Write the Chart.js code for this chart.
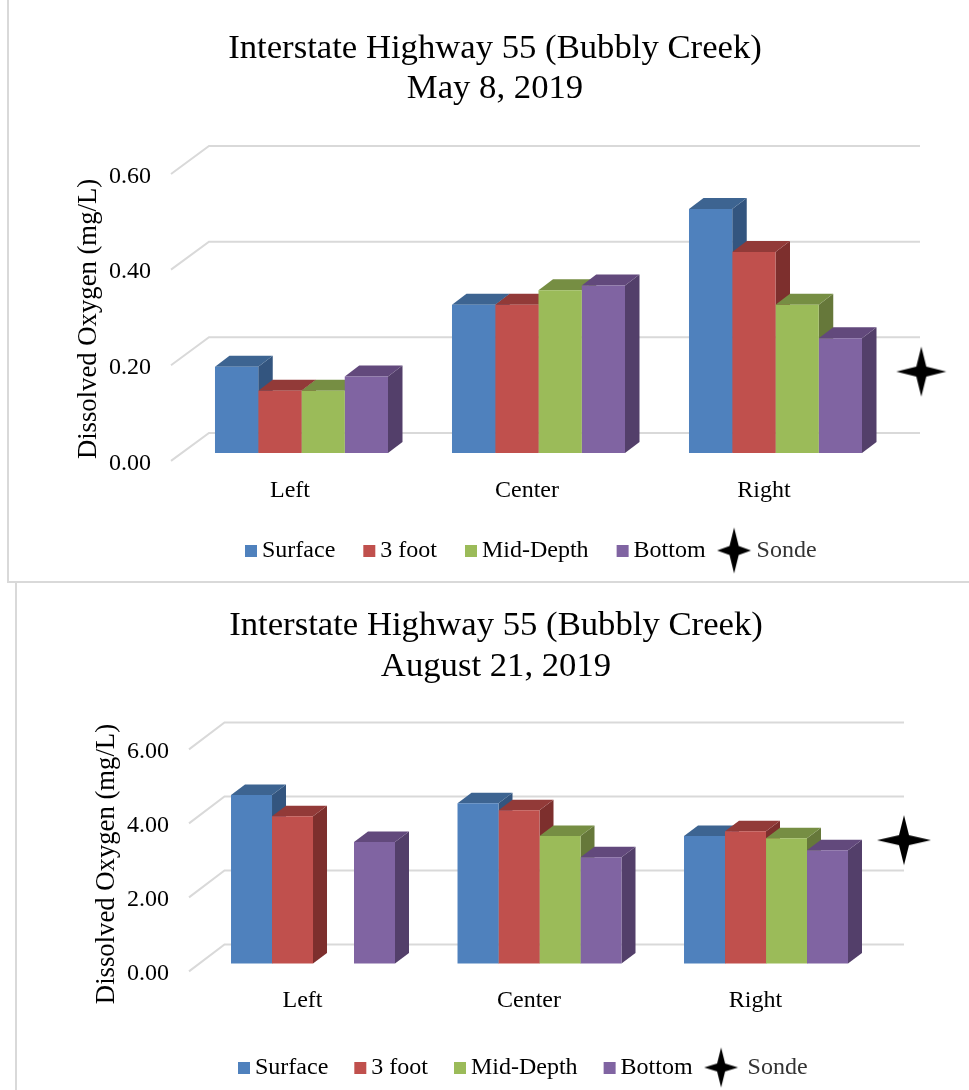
<!DOCTYPE html>
<html>
<head>
<meta charset="utf-8">
<style>
html,body{margin:0;padding:0;background:#fff;overflow:hidden;width:969px;height:1090px}
canvas{position:absolute}
.rule{position:absolute;background:#d9d9d9}
</style>
<script src="https://cdn.jsdelivr.net/npm/chart.js@4"></script>
</head>
<body>
<div class="rule" style="left:7px;top:0;width:2px;height:583px"></div>
<div class="rule" style="left:7px;top:581px;width:962px;height:2px"></div>
<div class="rule" style="left:15px;top:583px;width:2px;height:507px"></div>
<canvas id="c1" style="left:9px;top:0"></canvas>
<canvas id="c2" style="left:17px;top:583px"></canvas>
<script>
const categories = ['Left', 'Center', 'Right'];
const seriesNames = ['Surface', '3 foot', 'Mid-Depth', 'Bottom'];
const sondeName = 'Sonde';

const maySurface = [0.18, 0.31, 0.51];
const may3Foot   = [0.13, 0.31, 0.42];
const mayMid     = [0.13, 0.34, 0.31];
const mayBottom  = [0.16, 0.35, 0.24];
const maySonde   = [0.17];
const mayTicks   = [0, 0.2, 0.4, 0.6];

const augSurface = [4.55, 4.33, 3.44];
const aug3Foot   = [3.98, 4.14, 3.57];
const augMid     = [null, 3.44, 3.38];
const augBottom  = [3.28, 2.87, 3.06];
const augSonde   = [3.33];
const augTicks   = [0, 2, 4, 6];

const FONT = '"Liberation Serif"';
const fills = ['#4F81BD', '#C0504D', '#9BBB59', '#8064A2'];
const tops  = ['#3D6491', '#923A38', '#768E43', '#62497C'];
const sides = ['#33557F', '#7D2F2D', '#66783A', '#533F6A'];

function starPath(g, cx, cy, hw, hh) {
  const k = 0.2 * hh;
  g.beginPath();
  g.moveTo(cx, cy - hh);
  g.lineTo(cx + k, cy - k);
  g.lineTo(cx + hw, cy);
  g.lineTo(cx + k, cy + k);
  g.lineTo(cx, cy + hh);
  g.lineTo(cx - k, cy + k);
  g.lineTo(cx - hw, cy);
  g.lineTo(cx - k, cy - k);
  g.closePath();
  g.fillStyle = '#000';
  g.fill();
}
function makeStar(hw, hh, shift) {
  const c = document.createElement('canvas');
  const w = 2 * hw + 2 + 2 * Math.abs(shift);
  c.width = w; c.height = 2 * hh + 2;
  starPath(c.getContext('2d'), w / 2 + shift, hh + 1, hw, hh);
  return c;
}
function makeSwatch(color) {
  const c = document.createElement('canvas');
  c.width = 25; c.height = 12;
  const g = c.getContext('2d');
  g.fillStyle = color;
  g.fillRect(10, 0, 12, 12);
  return c;
}

function drawChart(id, o) {
  const canvas = document.getElementById(id);
  canvas.width = o.width; canvas.height = o.height;
  const scene = {
    id: 'scene',
    afterLayout(chart) {
      const lg = chart.legend;
      const pad = o.legendPad;
      lg.left = o.legendX - pad;
      lg.right = chart.width + 300;
      lg.top = o.legendY - pad - o.legendFont / 2;
      chart.titleBlock.right = chart.width;
    },
    beforeDatasetsDraw(chart) {
      const g = chart.ctx, y = chart.scales.y, a = chart.chartArea;
      g.save();
      g.strokeStyle = '#d9d9d9';
      g.lineWidth = 2;
      o.ticks.forEach(v => {
        const p = y.getPixelForValue(v);
        g.beginPath();
        g.moveTo(a.left, p + o.frontDrop);
        g.lineTo(a.left + o.backRun, p - o.backRise);
        g.lineTo(a.right - 5, p - o.backRise);
        g.stroke();
      });
      categories.forEach((_, j) => {
        o.series.forEach((vals, i) => {
          if (vals[j] === null) return;
          const b = chart.getDatasetMeta(i).data[j];
          const x0 = b.x - b.width / 2, x1 = b.x + b.width / 2;
          g.fillStyle = sides[i];
          g.beginPath();
          g.moveTo(x1, b.y); g.lineTo(x1 + o.dx, b.y - o.dy);
          g.lineTo(x1 + o.dx, b.base - o.dy); g.lineTo(x1, b.base);
          g.closePath(); g.fill();
          g.fillStyle = tops[i];
          g.beginPath();
          g.moveTo(x0, b.y); g.lineTo(x0 + o.dx, b.y - o.dy);
          g.lineTo(x1 + o.dx, b.y - o.dy); g.lineTo(x1, b.y);
          g.closePath(); g.fill();
        });
      });
      g.restore();
    }
  };
  const datasets = o.series.map((vals, i) => ({
    type: 'bar',
    label: seriesNames[i],
    backgroundColor: fills[i],
    borderWidth: 0,
    categoryPercentage: o.groupShare,
    barPercentage: 1,
    data: vals.map((v, j) => ({ x: j, y: v }))
  }));
  datasets.push({
    type: 'scatter',
    label: sondeName,
    clip: false,
    pointStyle: makeStar(o.starW, o.starH, 0),
    pointRadius: o.starW,
    data: o.sonde.map(v => ({ x: o.sondeX, y: v }))
  });
  return new Chart(canvas, {
    type: 'bar',
    data: { datasets },
    plugins: [scene],
    options: {
      responsive: false,
      animation: false,
      layout: { padding: { left: 0, top: 0, bottom: 0, right: o.padRight } },
      plugins: {
        tooltip: { enabled: false },
        title: {
          display: true,
          text: o.title,
          color: '#000',
          font: { family: FONT, size: o.titleFont, weight: 'normal', lineHeight: o.titleLine },
          padding: { top: o.titleTop, bottom: o.titleBottom }
        },
        legend: {
          display: true,
          position: 'bottom',
          align: 'start',
          labels: {
            color: '#000',
            font: { family: FONT, size: o.legendFont },
            usePointStyle: true,
            boxWidth: 5,
            boxHeight: 12,
            padding: o.legendPad,
            generateLabels() {
              const items = seriesNames.map((n, i) => ({
                text: n, fillStyle: fills[i], strokeStyle: 'transparent', lineWidth: 0,
                pointStyle: makeSwatch(fills[i]), datasetIndex: i, hidden: false
              }));
              items.push({
                text: o.sondeText, fillStyle: '#000', strokeStyle: 'transparent', lineWidth: 0,
                fontColor: '#333',
                pointStyle: makeStar(o.legendStarW, o.legendStarH, o.legendStarShift),
                datasetIndex: 4, hidden: false
              });
              return items;
            }
          }
        }
      },
      scales: {
        x: {
          type: 'linear',
          offset: false,
          min: o.xMin,
          max: o.xMax,
          grid: { display: false, drawTicks: false, offset: false },
          border: { display: false },
          afterBuildTicks(s) { s.ticks = categories.map((_, i) => ({ value: i })); },
          afterFit(s) { s.height = o.xHeight; },
          ticks: {
            autoSkip: false,
            maxRotation: 0,
            padding: o.xPad,
            labelOffset: o.xLabelShift,
            color: '#000',
            font: { family: FONT, size: o.tickFont },
            callback: v => categories[v]
          }
        },
        y: {
          min: o.yMin,
          max: o.yMax,
          grid: { display: false, drawTicks: false },
          border: { display: false },
          afterBuildTicks(s) { s.ticks = o.ticks.map(v => ({ value: v })); },
          afterFit(s) { s.width = o.yWidth; },
          title: {
            display: true,
            text: 'Dissolved Oxygen (mg/L)',
            color: '#000',
            font: { family: FONT, size: o.yTitleFont },
            padding: { top: o.yTitlePad, bottom: 0 }
          },
          ticks: {
            autoSkip: false,
            padding: o.yPad,
            labelOffset: o.yLabelDrop,
            color: '#000',
            font: { family: FONT, size: o.tickFont },
            callback: v => v.toFixed(2)
          }
        }
      }
    }
  });
}

drawChart('c1', {
  width: 972, height: 581, padRight: 56,
  title: ['Interstate Highway 55 (Bubbly Creek)', 'May 8, 2019'],
  titleFont: 34.7, titleLine: 1.153, titleTop: 29, titleBottom: 57,
  series: [maySurface, may3Foot, mayMid, mayBottom], sonde: maySonde, ticks: mayTicks,
  sondeX: 2.615, xMin: -0.5506, xMax: 2.6308, groupShare: 0.73,
  yMin: -0.04, yMax: 0.6, xHeight: 47, yWidth: 162,
  xPad: 4, xLabelShift: -11.5, yPad: 20, tickFont: 24, yTitleFont: 26.7, yTitlePad: 64,
  frontDrop: 8, yLabelDrop: 10.5, backRise: 20, backRun: 38, dx: 14.5, dy: 11,
  starW: 25, starH: 25,
  legendFont: 24, legendPad: 28, legendX: 236, legendY: 550.5,
  legendStarW: 17, legendStarH: 23, legendStarShift: -2, sondeText: ' Sonde'
});
drawChart('c2', {
  width: 958, height: 507, padRight: 66,
  title: ['Interstate Highway 55 (Bubbly Creek)', 'August 21, 2019'],
  titleFont: 34.7, titleLine: 1.18, titleTop: 22.5, titleBottom: 54,
  series: [augSurface, aug3Foot, augMid, augBottom], sonde: augSonde, ticks: augTicks,
  sondeX: 2.609, xMin: -0.5475, xMax: 2.6313, groupShare: 0.724,
  yMin: -0.63, yMax: 6, xHeight: 43.3, yWidth: 172,
  xPad: 0, xLabelShift: -10.5, yPad: 20, tickFont: 24, yTitleFont: 26.7, yTitlePad: 74,
  frontDrop: 8, yLabelDrop: 10.5, backRise: 19, backRun: 35.5, dx: 14, dy: 10.5,
  starW: 27, starH: 25,
  legendFont: 24, legendPad: 26, legendX: 221, legendY: 484.5,
  legendStarW: 17, legendStarH: 20, legendStarShift: 0, sondeText: '  Sonde'
});
</script>
</body>
</html>
